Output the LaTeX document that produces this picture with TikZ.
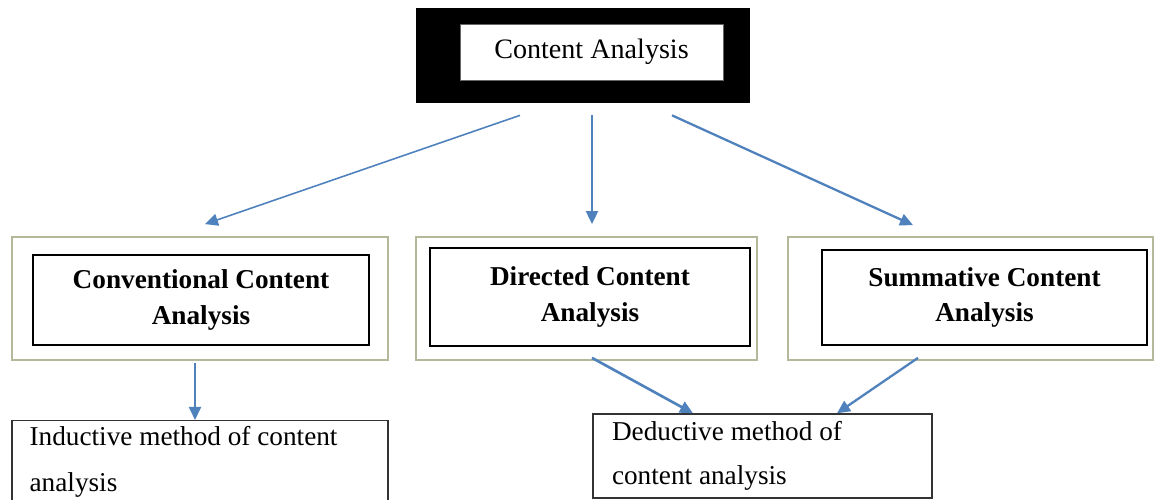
\documentclass[tikz,border=0pt]{standalone}
\usepackage{fontspec}
\setmainfont{Liberation Serif}
\usepackage{xcolor}
\usetikzlibrary{arrows.meta, positioning}

\definecolor{flowblue}{RGB}{79,129,189}
\definecolor{framegreen}{RGB}{178,186,155}

\tikzset{
  outerframe/.style={draw=framegreen, line width=1pt, minimum height=2.46cm},
  typebox/.style={draw=black, line width=0.8pt, fill=white, align=center,
    font=\fontsize{15.5}{20}\selectfont\bfseries},
  methodbox/.style={draw=black!80, line width=0.8pt, align=flush left, inner xsep=0.38cm},
  flow/.style={draw=flowblue, line width=1.1pt, -{Triangle[length=0.26cm,width=0.24cm]}},
}

\begin{document}
\begin{tikzpicture}[scale=1.0]
\useasboundingbox (0,0) rectangle (23.14,10);
\clip (0,0) rectangle (23.14,10);

% Titlu - cadru negru cu caseta alba
\node[fill=black, minimum width=6.68cm, minimum height=1.9cm] (topframe) at (11.66,8.89) {};
\node[draw=black!60, fill=white, minimum width=5.26cm, minimum height=1.12cm,
  font=\fontsize{16}{19}\selectfont] (top) at (11.83,8.96) {Content Analysis};

% Cele trei tipuri - cadre verzi cu casete interioare
\node[outerframe, minimum width=7.52cm] (convframe) at (4.0,4.03) {};
\node[typebox, minimum width=6.72cm, minimum height=1.8cm] (conv) at (4.02,4.0)
  {Conventional Content\\Analysis};

\node[outerframe, minimum width=6.82cm] (dirframe) at (11.73,4.03) {};
\node[typebox, minimum width=6.4cm, minimum height=1.96cm] (dir) at (11.8,4.06)
  {Directed Content\\Analysis};

\node[outerframe, minimum width=7.3cm] (sumframe) at (19.41,4.03) {};
\node[typebox, minimum width=6.5cm, minimum height=1.9cm] (sum) at (19.69,4.05)
  {Summative Content\\Analysis};

% Metodele - casete de jos
\node[methodbox, anchor=north, minimum width=7.52cm, minimum height=1.9cm] (induct) at (4.0,1.6) {};
\node[anchor=north west, inner sep=0pt, align=flush left,
  font=\fontsize{15.5}{26}\selectfont] (inducttext) at ([xshift=0.36cm, yshift=-0.12cm]induct.north west)
  {Inductive method of content\\analysis};
\node[methodbox, text width=6.02cm, minimum height=1.68cm,
  font=\fontsize{15.5}{25}\selectfont] (deduct) at (15.25,0.88)
  {Deductive method of\\content analysis};

% Sageti
\draw[flow, line width=0.9pt] ([xshift=-1.26cm, yshift=-0.24cm]topframe.south) -- ([xshift=0.1cm, yshift=0.24cm]convframe.north);
\draw[flow] ([xshift=0.18cm, yshift=-0.24cm]topframe.south) -- ([xshift=0.11cm, yshift=0.24cm]dirframe.north);
\draw[flow, line width=1.3pt] ([xshift=1.78cm, yshift=-0.24cm]topframe.south) -- ([xshift=-1.15cm, yshift=0.22cm]sumframe.north);
\draw[flow] ([xshift=-0.1cm, yshift=-0.04cm]convframe.south) -- ([xshift=-0.1cm]induct.north);
\draw[flow, line width=1.5pt] ([xshift=0.11cm, yshift=0.06cm]dirframe.south) -- ([xshift=-1.39cm]deduct.north);
\draw[flow, line width=1.3pt] ([xshift=-1.05cm, yshift=0.06cm]sumframe.south) -- ([xshift=1.49cm]deduct.north);

\end{tikzpicture}
\end{document}
